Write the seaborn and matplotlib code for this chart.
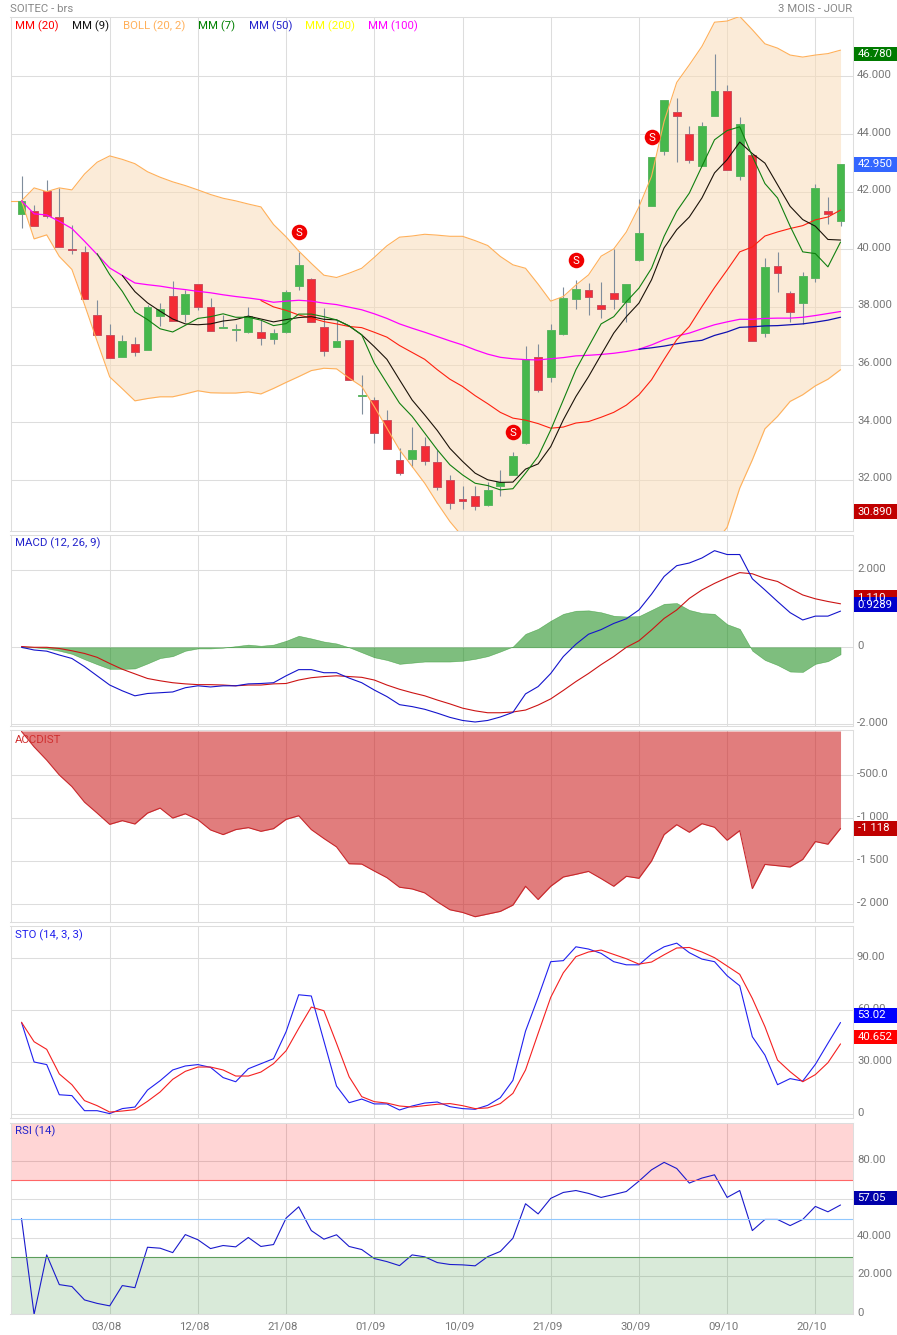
import numpy as np
import pandas as pd
import seaborn as sns
import matplotlib.pyplot as plt
from matplotlib.patches import Rectangle
from matplotlib.transforms import ScaledTranslation

W, H = 897, 1335

# %% values

opens = [41.23, 41.33, 42.02, 41.12, 40.01, 39.91, 37.72, 37.03, 36.25, 36.72,
         36.5, 37.68, 38.38, 37.75, 38.8, 38.0, 37.26, 37.2, 37.12, 37.13,
         36.88, 37.12, 38.71, 38.96, 37.29, 36.62, 36.84, 34.9, 34.76, 34.07,
         32.68, 32.71, 33.17, 32.61, 31.99, 31.33, 31.43, 31.11, 31.77, 32.15,
         33.29, 36.25, 35.55, 37.06, 38.29, 38.58, 38.06, 38.47, 38.18, 39.62,
         41.49, 43.4, 44.76, 44.0, 42.88, 44.61, 45.5, 42.53, 43.27, 37.11,
         39.42, 38.47, 38.15, 39.02, 41.33, 40.97]
closes = [41.68, 40.8, 41.14, 40.07, 39.97, 38.27, 37.03, 36.23, 36.82, 36.44,
          38.0, 37.93, 37.51, 38.46, 38.0, 37.17, 37.31, 37.24, 37.68, 36.92,
          37.08, 38.52, 39.46, 37.47, 36.46, 36.81, 35.46, 34.94, 33.62, 33.06,
          32.25, 33.04, 32.64, 31.75, 31.21, 31.25, 31.08, 31.64, 31.93, 32.82,
          36.18, 35.1, 37.19, 38.3, 38.61, 38.36, 37.94, 38.29, 38.79, 40.57,
          43.21, 45.19, 44.61, 43.09, 44.28, 45.5, 42.74, 44.35, 36.81, 39.4,
          39.17, 37.84, 39.08, 42.13, 41.21, 42.97]
highs = [42.55, 41.55, 42.42, 42.12, 40.84, 40.13, 38.25, 37.39, 37.04, 36.94,
         38.08, 38.12, 38.91, 38.6, 38.8, 38.32, 37.73, 37.42, 38.0, 37.56,
         37.22, 38.6, 39.92, 39.01, 37.97, 37.55, 36.84, 35.64, 34.89, 34.43,
         33.1, 33.83, 33.47, 33.04, 32.16, 31.77, 31.79, 31.94, 32.35, 32.96,
         36.65, 36.71, 37.41, 38.69, 38.94, 38.82, 38.87, 40.0, 38.79, 41.75,
         43.21, 45.19, 45.25, 44.29, 44.43, 46.79, 45.71, 44.6, 43.27, 39.68,
         39.91, 38.54, 39.21, 42.28, 41.83, 42.97]
lows = [40.73, 40.8, 41.08, 40.07, 39.85, 38.27, 37.03, 36.23, 36.25, 36.29,
        36.5, 37.33, 37.51, 37.47, 37.88, 37.17, 37.26, 36.81, 37.1, 36.67,
        36.71, 37.1, 38.57, 37.47, 36.31, 36.62, 35.46, 34.3, 33.29, 33.06,
        32.15, 32.43, 32.5, 31.63, 30.97, 31.0, 30.94, 31.08, 31.42, 32.15,
        33.25, 35.06, 35.38, 37.03, 37.94, 37.72, 37.62, 37.91, 37.49, 39.58,
        41.49, 43.26, 43.04, 42.98, 42.88, 44.61, 42.74, 42.42, 36.81, 36.94,
        38.53, 37.46, 37.41, 38.87, 40.87, 40.79]

boll_up = [41.68, 42.13, 42.0, 42.13, 42.06, 42.61, 43.02, 43.24, 43.12, 42.97,
           42.69, 42.5, 42.34, 42.21, 42.06, 41.9, 41.77, 41.68, 41.57, 41.47,
           40.86, 40.43, 39.94, 39.51, 39.1, 39.02, 39.17, 39.34, 39.72, 40.12,
           40.42, 40.46, 40.52, 40.49, 40.45, 40.45, 40.3, 40.13, 39.75, 39.46,
           39.34, 38.79, 38.2, 38.36, 38.76, 39.11, 39.76, 40.01, 40.6, 41.47,
           42.53, 44.44, 45.79, 46.4, 47.04, 47.88, 47.92, 48.08, 47.62, 47.13,
           46.98, 46.74, 46.67, 46.74, 46.79, 46.91]
boll_low = [41.68, 40.36, 40.5, 39.75, 39.3, 38.08, 36.81, 35.57, 35.16, 34.74,
            34.82, 34.88, 34.88, 34.98, 35.09, 35.02, 35.01, 35.01, 35.05, 34.98,
            35.17, 35.38, 35.58, 35.79, 35.87, 35.85, 35.53, 35.24, 34.54, 33.79,
            33.04, 32.46, 31.88, 31.19, 30.55, 30.03, 29.7, 29.5, 29.4, 29.2,
            28.7, 28.6, 28.4, 28.2, 28.0, 27.9, 28.0, 28.1, 28.1, 28.2,
            28.2, 28.4, 28.7, 29.1, 29.4, 29.8, 30.35, 31.71, 32.69, 33.77,
            34.2, 34.72, 34.95, 35.26, 35.49, 35.82]

mm20 = [38.22, 38.0, 37.88, 37.72, 37.61, 37.49, 37.41, 37.32, 37.28, 37.12,
        36.95, 36.66, 36.42, 36.18, 35.82, 35.49, 35.24, 34.92, 34.64, 34.34,
        34.14, 34.07, 33.95, 33.79, 33.83, 33.97, 34.02, 34.17, 34.34, 34.59,
        34.95, 35.47, 36.18, 36.86, 37.32, 38.01, 38.67, 39.28, 39.91, 40.08,
        40.46, 40.6, 40.72, 40.82, 41.02, 41.12, 41.36]
mm9 = [39.09, 38.53, 38.14, 37.85, 37.58, 37.41, 37.38, 37.41, 37.51, 37.56,
       37.68, 37.58, 37.48, 37.56, 37.63, 37.66, 37.57, 37.55, 37.34, 37.03,
       36.62, 36.18, 35.47, 34.77, 34.25, 33.71, 33.09, 32.64, 32.23, 32.0,
       31.91, 31.92, 32.37, 32.55, 33.15, 34.08, 34.89, 35.58, 36.34, 37.09,
       37.66, 38.13, 38.94, 40.05, 40.68, 41.12, 41.78, 42.65, 43.11, 43.72,
       43.32, 42.99, 42.24, 41.49, 41.03, 40.8, 40.34, 40.32]
mm7 = [39.85, 39.12, 38.54, 37.83, 37.56, 37.24, 37.13, 37.36, 37.6, 37.66,
       37.76, 37.64, 37.64, 37.54, 37.35, 37.42, 37.75, 37.75, 37.66, 37.55,
       37.34, 37.03, 36.05, 35.35, 34.66, 34.2, 33.62, 33.04, 32.52, 32.17,
       31.88, 31.8, 31.65, 31.69, 32.23, 32.81, 33.73, 34.77, 35.82, 36.62,
       37.41, 37.66, 38.18, 38.65, 39.34, 40.45, 41.32, 41.95, 42.88, 43.8,
       44.12, 44.25, 43.23, 42.28, 41.78, 40.8, 39.91, 39.85, 39.39, 40.25]
mm100 = [41.68, 41.23, 41.19, 40.97, 40.72, 40.28, 39.82, 39.35, 39.09, 38.83,
         38.77, 38.72, 38.65, 38.6, 38.54, 38.49, 38.42, 38.36, 38.31, 38.25,
         38.16, 38.2, 38.23, 38.2, 38.13, 38.08, 37.99, 37.9, 37.76, 37.6,
         37.41, 37.26, 37.12, 36.97, 36.82, 36.68, 36.51, 36.36, 36.25, 36.2,
         36.17, 36.16, 36.2, 36.24, 36.3, 36.32, 36.35, 36.39, 36.45, 36.53,
         36.68, 36.86, 36.99, 37.09, 37.24, 37.38, 37.48, 37.57, 37.57, 37.6,
         37.61, 37.61, 37.64, 37.7, 37.77, 37.84]
mm50 = [36.53, 36.58, 36.64, 36.72, 36.79, 36.84, 37.01, 37.13, 37.29, 37.31,
        37.34, 37.35, 37.38, 37.41, 37.47, 37.54, 37.64]

signal_idx = [22, 39, 44, 50]
signal_price = [40.6, 33.66, 39.63, 43.9]

macd = [0, -0.07, -0.1, -0.2, -0.29, -0.5, -0.74, -0.98, -1.13, -1.26,
        -1.2, -1.18, -1.16, -1.05, -1.0, -1.03, -1.0, -1.0, -0.95, -0.94,
        -0.92, -0.74, -0.58, -0.58, -0.66, -0.66, -0.8, -0.92, -1.11, -1.28,
        -1.49, -1.54, -1.61, -1.71, -1.82, -1.9, -1.94, -1.9, -1.81, -1.69,
        -1.21, -1.02, -0.68, -0.24, 0.08, 0.34, 0.46, 0.62, 0.74, 0.97,
        1.38, 1.84, 2.12, 2.19, 2.32, 2.51, 2.41, 2.41, 1.78, 1.49,
        1.19, 0.9, 0.71, 0.81, 0.81, 0.94]
macd_sig = [0.02, 0, 0, -0.03, -0.09, -0.16, -0.26, -0.42, -0.57, -0.69,
            -0.81, -0.87, -0.92, -0.95, -0.97, -0.97, -0.98, -1.0, -0.98, -0.98,
            -0.95, -0.94, -0.85, -0.79, -0.76, -0.74, -0.76, -0.78, -0.85, -0.98,
            -1.09, -1.18, -1.26, -1.37, -1.47, -1.58, -1.65, -1.7, -1.7, -1.68,
            -1.63, -1.5, -1.34, -1.12, -0.89, -0.68, -0.45, -0.24, 0, 0.17,
            0.45, 0.75, 0.97, 1.27, 1.49, 1.66, 1.81, 1.94, 1.91, 1.79,
            1.71, 1.53, 1.36, 1.26, 1.19, 1.13]
macd_hist = [0, 0, -0.03, -0.09, -0.17, -0.31, -0.44, -0.56, -0.56, -0.55,
             -0.42, -0.28, -0.23, -0.09, -0.03, -0.03, -0.01, 0.03, 0.07, 0.04,
             0.07, 0.17, 0.3, 0.23, 0.15, 0.1, 0, -0.13, -0.26, -0.33,
             -0.43, -0.4, -0.37, -0.37, -0.37, -0.35, -0.3, -0.23, -0.11, 0.02,
             0.35, 0.48, 0.69, 0.87, 0.95, 0.96, 0.91, 0.82, 0.8, 0.81,
             0.97, 1.13, 1.15, 0.97, 0.89, 0.87, 0.6, 0.48, -0.09, -0.33,
             -0.46, -0.63, -0.64, -0.43, -0.36, -0.18]

accdist = [10, -169, -323, -496, -631, -812, -939, -1070, -1027, -1066,
           -939, -881, -997, -947, -1016, -1135, -1189, -1131, -1108, -1151,
           -1120, -1012, -970, -1131, -1235, -1332, -1528, -1532, -1613, -1690,
           -1801, -1821, -1867, -1971, -2063, -2094, -2144, -2113, -2082, -2009,
           -1790, -1944, -1790, -1682, -1651, -1617, -1701, -1790, -1674, -1697,
           -1497, -1189, -1074, -1162, -1062, -1104, -1255, -1143, -1817, -1536,
           -1551, -1566, -1478, -1270, -1301, -1118]

sto_k = [53.1, 30.2, 28.7, 11.3, 10.8, 2.1, 2.1, 0.4, 3.3, 4.2,
         14, 19.4, 25.6, 27.9, 28.7, 27.1, 21.2, 18.8, 26.3, 29.2,
         32.1, 47.7, 69, 68.3, 42.3, 16.3, 6.7, 8.8, 6, 6,
         2.5, 4.8, 6.5, 7.1, 4.4, 3.3, 2.9, 5.2, 9.6, 19.6,
         48, 67.5, 88.1, 88.7, 96.7, 95.4, 92.9, 88.1, 86.3, 86.3,
         92.5, 96.7, 98.8, 93.3, 89.6, 88.1, 80, 74.2, 44.8, 34.2,
         17.1, 20.6, 19.2, 28.8, 41, 53]
sto_d = [53.1, 41.9, 37.5, 23.3, 17.1, 7.9, 5, 1.3, 1.9, 2.7,
         7.5, 12.9, 20.2, 24.8, 27.3, 27.3, 25.6, 22.1, 22.1, 24.4,
         29.2, 36.7, 49.6, 61.9, 59.8, 41, 21.7, 10.2, 7.3, 6.5,
         4.8, 4.2, 5, 5.8, 6.2, 5, 3.3, 3.7, 6.2, 12.1,
         25.6, 46.7, 67.5, 81.7, 91, 93.7, 94.8, 92.3, 89.8, 86.7,
         87.9, 92.1, 96, 96.3, 93.7, 90.4, 85.6, 80.8, 66.9, 50.6,
         31.3, 24.6, 18.8, 22.9, 29.8, 40.65]

rsi = [50, 0, 31, 15.5, 14.5, 7.5, 5.7, 4.4, 15, 13.9,
       35, 34.5, 32.2, 41.6, 38.9, 34.3, 35.9, 35.2, 40.1, 35.4,
       36.4, 50.2, 56.1, 43.7, 39.2, 41.5, 35.4, 33.8, 29.1, 27.5,
       25.4, 31, 30, 27, 26, 25.8, 25.3, 30.1, 32.8, 39.7,
       57.7, 52.4, 60.5, 63.6, 64.6, 63.1, 61, 62.5, 64.1, 69.5,
       75.4, 79.3, 76.1, 68.5, 71.1, 72.8, 61, 64.6, 43.7, 49.5,
       49.5, 46.3, 49.5, 56.3, 53.5, 57.05]

date_ticks = [7, 14, 21, 28, 35, 42, 49, 56, 63]
date_labels = ["03/08", "12/08", "21/08", "01/09", "10/09", "21/09", "30/09", "09/10", "20/10"]

price_ticks = [32, 34, 36, 38, 40, 42, 44, 46]
price_labels = ["32.000", "34.000", "36.000", "38.000", "40.000", "42.000", "44.000", "46.000"]
macd_ticks = [-2, 0, 2]
macd_labels = ["-2.000", "0", "2.000"]
acc_ticks = [-2000, -1500, -1000, -500]
acc_labels = ["-2 000", "-1 500", "-1 000", "-500.0"]
sto_ticks = [0, 30, 60, 90]
sto_labels = ["0", "30.000", "60.00", "90.00"]
rsi_ticks = [0, 20, 40, 60, 80]
rsi_labels = ["0", "20.000", "40.000", "60.00", "80.00"]

legend_names = ["MM (20)", "MM (9)", "BOLL (20, 2)", "MM (7)", "MM (50)", "MM (200)", "MM (100)"]
legend_colors = ["#ff0000", "#111111", "#ffb05a", "#008000", "#2222cc", "#ffff00", "#ff00ff"]
legend_px = [15, 72, 123, 198, 249, 305, 368]

# %%

sns.set_theme(style="whitegrid", rc={
    "grid.color": "#dddddd",
    "grid.linewidth": 0.75,
    "axes.edgecolor": "#dddddd",
    "axes.linewidth": 0.75,
    "axes.unicode_minus": False,
})
plt.rcParams["font.family"] = "Roboto"
GREY = "#777777"
FS = 8.2

df = pd.DataFrame({
    "x": np.arange(len(opens)), "open": opens, "high": highs, "low": lows, "close": closes,
    "up": boll_up, "down": boll_low,
    "mm20": [np.nan] * 19 + mm20,
    "mm9": [np.nan] * 8 + mm9,
    "mm7": [np.nan] * 6 + mm7,
    "mm100": mm100,
    "mm50": [np.nan] * 49 + mm50,
    "macd": macd, "macd_sig": macd_sig, "macd_hist": macd_hist,
    "accdist": accdist, "sto_k": sto_k, "sto_d": sto_d, "rsi": rsi,
})


def makeAxes(fig, top, bottom):
    ax = fig.add_axes([10.5 / W, 1 - bottom / H, 842 / W, (bottom - top) / H])
    ax.set_xlim(-0.873, 65.95)
    ax.set_xticks(date_ticks)
    ax.tick_params(length=0, labelbottom=False, labelleft=False, labelright=True,
                   left=False, right=False, labelcolor=GREY, labelsize=FS, pad=3.2)
    ax.yaxis.tick_right()
    ax.set_axisbelow(True)
    return ax


def setYAxis(ax, ylim, ticks, labels):
    ax.set_ylim(*ylim)
    ax.set_yticks(ticks)
    ax.set_yticklabels(labels)
    # the labels sit a little above their grid line
    shift = ScaledTranslation(0, 2.5 / 100, ax.figure.dpi_scale_trans)
    for lab in ax.get_yticklabels():
        lab.set_transform(lab.get_transform() + shift)


def line(ax, col, color, lw=0.8):
    sns.lineplot(data=df, x="x", y=col, ax=ax, color=color, linewidth=lw,
                 estimator=None, errorbar=None, legend=False)
    ax.set_xlabel("")
    ax.set_ylabel("")


def figText(px, py, s, color, **kw):
    fig.text(px / W, 1 - py / H, s, color=color, fontsize=FS, va="center", **kw)


def valueTag(ax, value, label, color, shift=0):
    # coloured box in the right margin, at the height of the value
    ax_y = ax.transData.transform((0, value))[1]
    py = H - ax_y + shift
    fig.add_artist(Rectangle((854 / W, 1 - (py + 7.3) / H), 43 / W, 14.6 / H,
                             transform=fig.transFigure, facecolor=color, edgecolor="none"))
    figText(857.5, py, label, "white")


def plotCandles(ax):
    up = df["close"] >= df["open"]
    ax.vlines(df["x"], df["low"], df["high"], color="#7f8d9c", linewidth=0.8, zorder=3)
    bottom = df[["open", "close"]].min(axis=1)
    height = (df["close"] - df["open"]).abs()
    colors = ["#46b84c" if u else "#f42c35" for u in up]
    edges = ["#5cb562" if u else "#c9505f" for u in up]
    ax.bar(df["x"], height, bottom=bottom, width=0.63, color=colors,
           edgecolor=edges, linewidth=0.7, zorder=4)


fig = plt.figure(figsize=(W / 100, H / 100), dpi=100)

# price panel
ax = makeAxes(fig, 17.3, 530.5)
setYAxis(ax, (30.24, 48.05), price_ticks, price_labels)
ax.fill_between(df["x"], df["down"], df["up"], color="#f9dcb8", alpha=0.55, linewidth=0, zorder=2)
ax.hlines(boll_up[0], -0.873, 0, color="#ffb05a", linewidth=0.8, zorder=3)
line(ax, "up", "#ffb05a")
line(ax, "down", "#ffb05a")
plotCandles(ax)
line(ax, "mm100", "#ff00ff", 0.9)
line(ax, "mm50", "#1010b0", 0.9)
line(ax, "mm20", "#ff2010")
line(ax, "mm9", "#1a1208")
line(ax, "mm7", "#108010")
for ln in ax.get_lines():
    ln.set_zorder(5)
ax.scatter(signal_idx, signal_price, s=125, color="#f00000", zorder=6, linewidths=0)
for i, p in zip(signal_idx, signal_price):
    ax.text(i, p, "S", color="white", fontsize=FS, ha="center", va="center_baseline", zorder=7)
price_ax = ax

# macd
ax = makeAxes(fig, 534.7, 726.3)
setYAxis(ax, (-2.052, 2.925), macd_ticks, macd_labels)
ax.fill_between(df["x"], df["macd_hist"], 0, color="#148a14", alpha=0.55, linewidth=0.4, zorder=2)
line(ax, "macd_sig", "#cc1414")
line(ax, "macd", "#1414cc")
macd_ax = ax

# accdist
ax = makeAxes(fig, 730, 922.3)
setYAxis(ax, (-2209, 27), acc_ticks, acc_labels)
ax.fill_between(df["x"], df["accdist"], 15, color="#cc1f1f", alpha=0.58, linewidth=0, zorder=2)
line(ax, "accdist", "#c8282c")
acc_ax = ax

# stochastic
ax = makeAxes(fig, 926, 1118.3)
setYAxis(ax, (-2.3, 108.7), sto_ticks, sto_labels)
line(ax, "sto_k", "#2020f0")
line(ax, "sto_d", "#f52020")
sto_ax = ax

# rsi
ax = makeAxes(fig, 1122.7, 1314.3)
setYAxis(ax, (0, 100), rsi_ticks, rsi_labels)
ax.axhspan(70, 100, color="#ff0000", alpha=0.165, linewidth=0, zorder=2)
ax.axhspan(0, 30, color="#2e8b2e", alpha=0.18, linewidth=0, zorder=2)
ax.axhline(70, color="#ff6666", linewidth=0.8, zorder=3)
ax.axhline(50, color="#90c8ff", linewidth=0.8, zorder=3)
ax.axhline(30, color="#5c9e5c", linewidth=0.8, zorder=3)
line(ax, "rsi", "#1a1acc")
ax.set_xticklabels(date_labels)
ax.tick_params(axis="x", labelbottom=True, labelcolor=GREY, labelsize=FS, pad=5)
xshift = ScaledTranslation(-3.5 / 100, 0, fig.dpi_scale_trans)
for lab in ax.get_xticklabels():
    lab.set_transform(lab.get_transform() + xshift)
rsi_ax = ax

# titles and panel names
figText(10, 9, "SOITEC - brs", "#888888")
figText(852, 9, "3 MOIS - JOUR", "#888888", ha="right")
for px, name, color in zip(legend_px, legend_names, legend_colors):
    figText(px, 26, name, color)
figText(15, 543.5, "MACD (12, 26, 9)", "#2222cc")
figText(15, 739.5, "ACCDIST", "#d03030")
figText(15, 935.5, "STO (14, 3, 3)", "#2222ee")
figText(15, 1131.5, "RSI (14)", "#2222cc")

# value boxes
valueTag(price_ax, 46.78, "46.780", "#007a00")
valueTag(price_ax, 42.95, "42.950", "#3366ff")
valueTag(price_ax, 30.89, "30.890", "#c00000")
valueTag(macd_ax, 1.11, "1.110", "#c00000", shift=-7)
valueTag(macd_ax, 0.9289, "0.9289", "#0000cc", shift=-7)
valueTag(acc_ax, -1118, "-1 118", "#c00000")
valueTag(sto_ax, 53.02, "53.02", "#0000ff", shift=-7)
valueTag(sto_ax, 40.652, "40.652", "#ff0000", shift=-7)
valueTag(rsi_ax, 57.05, "57.05", "#0000aa", shift=-7)

fig.savefig("out.png", dpi=100)
